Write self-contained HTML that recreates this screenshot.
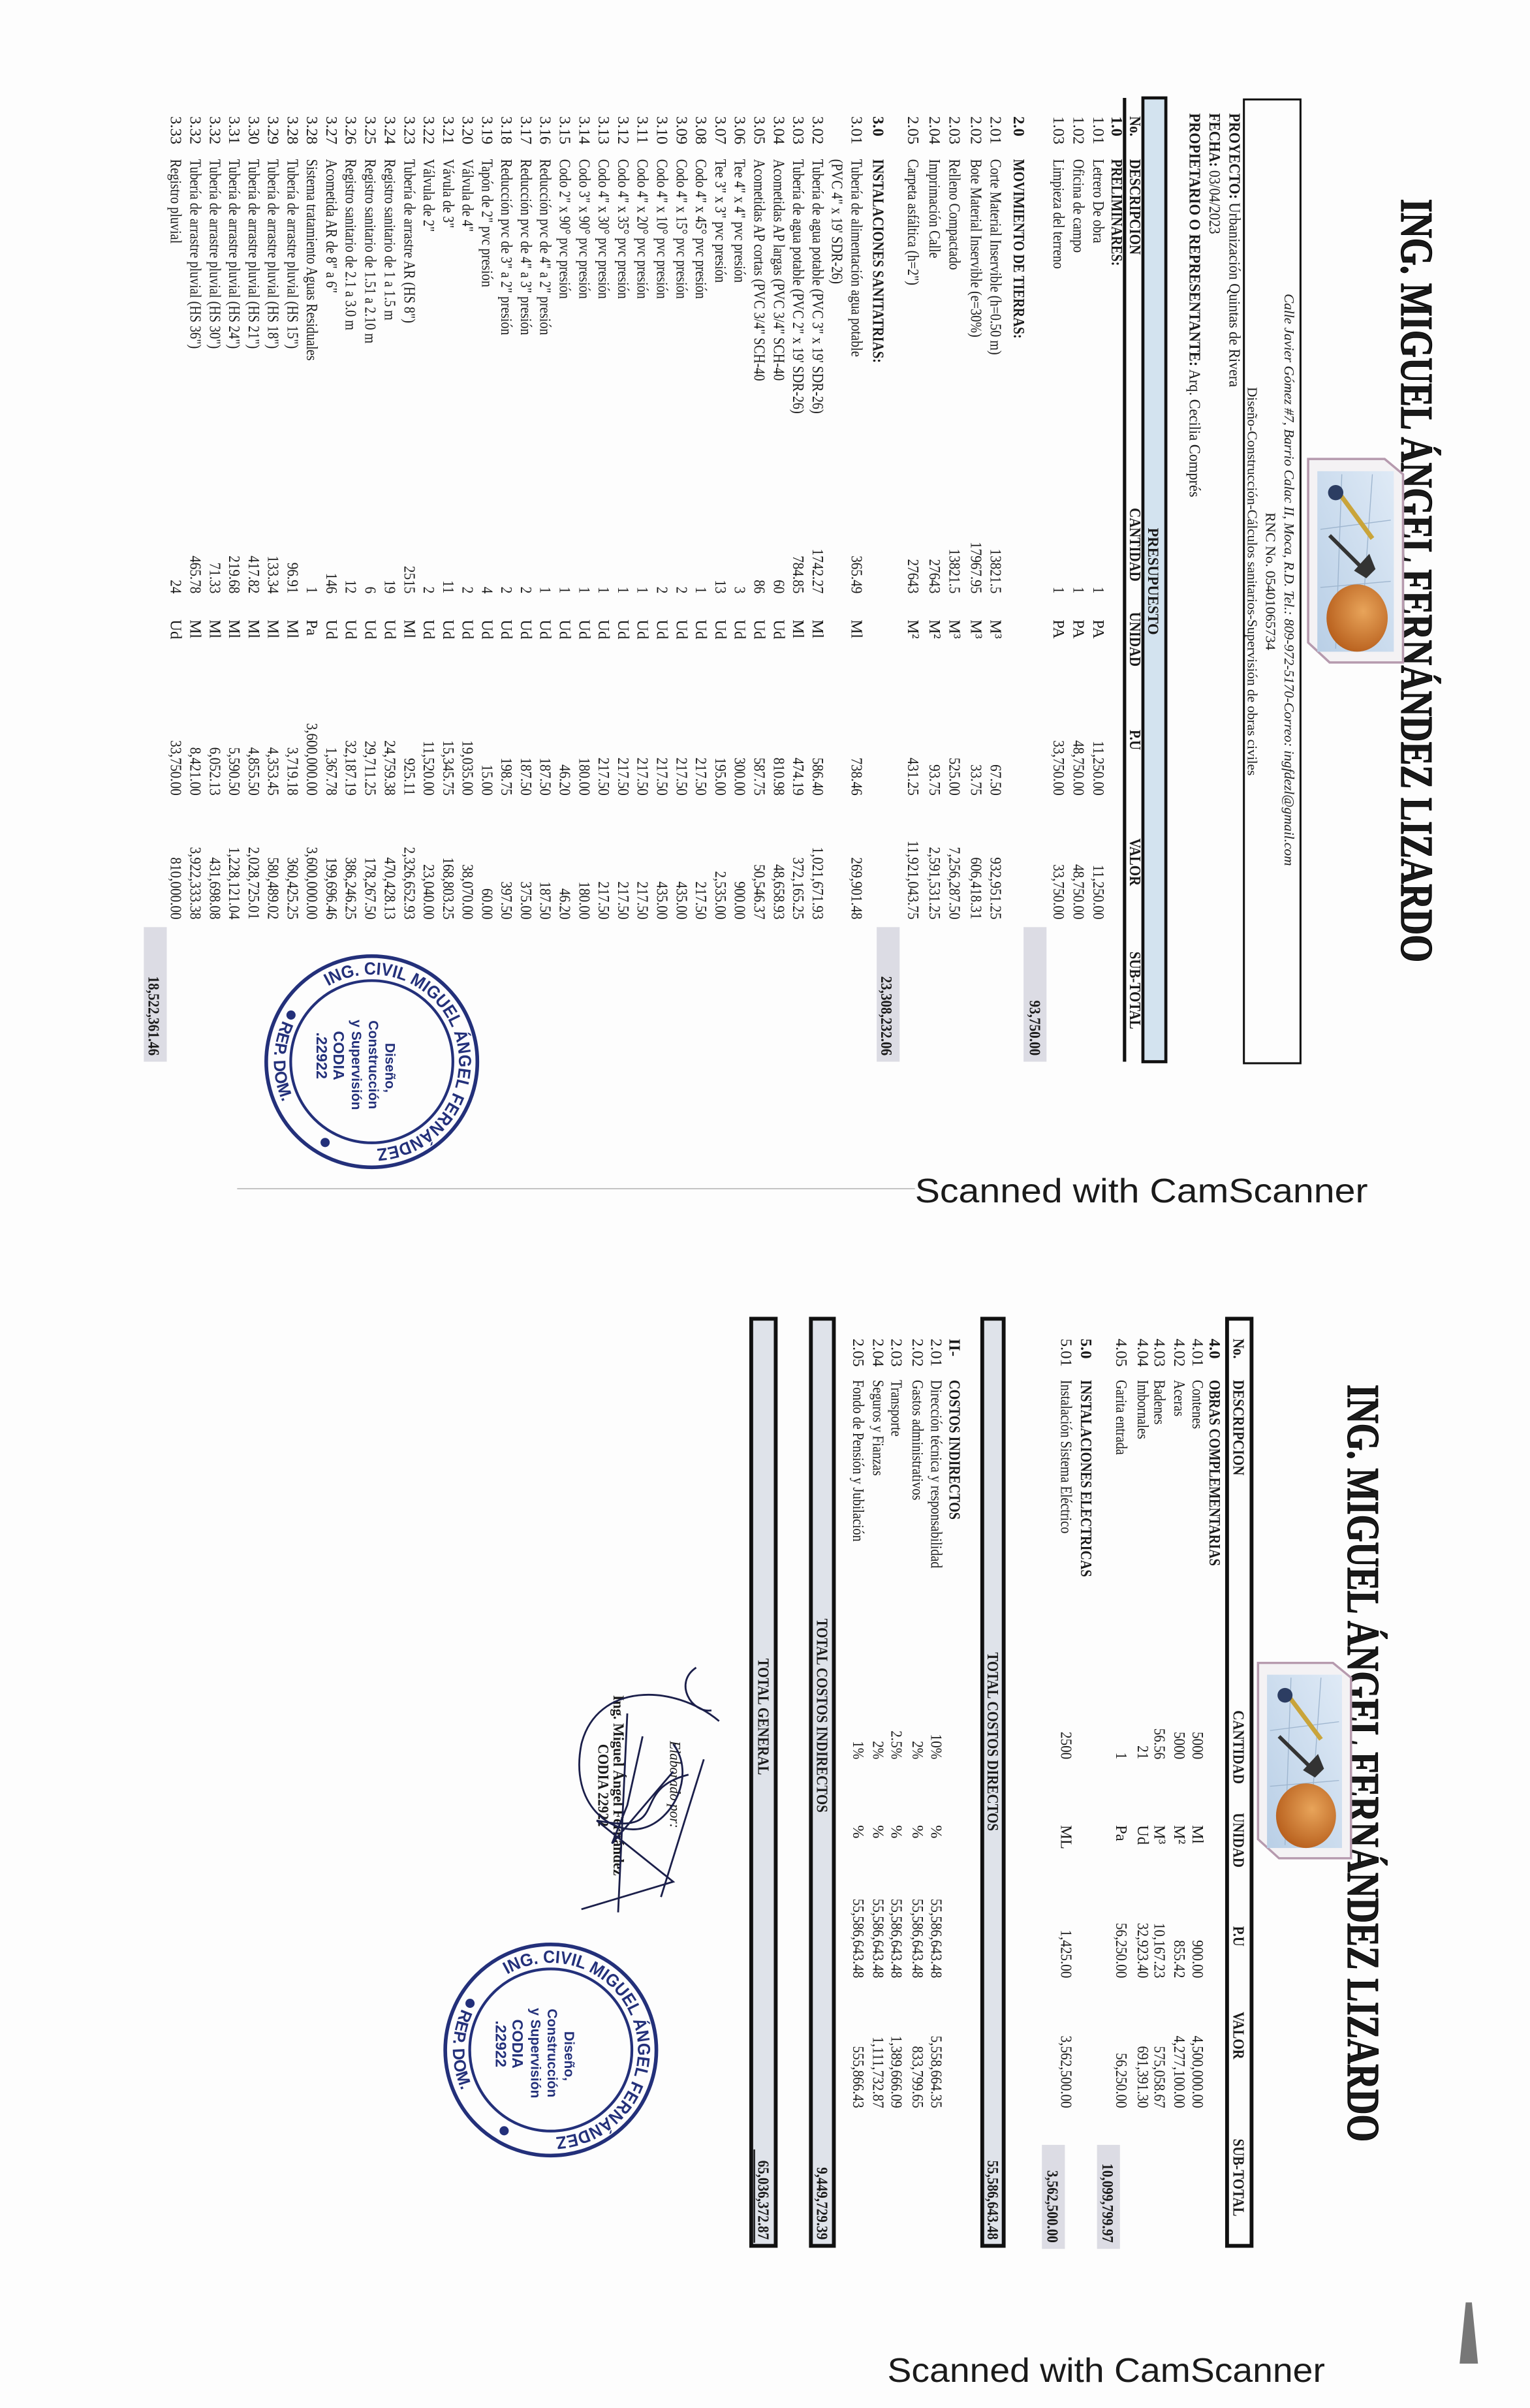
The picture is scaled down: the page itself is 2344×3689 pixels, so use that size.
<!DOCTYPE html>
<html><head><meta charset="utf-8">
<style>
html,body{margin:0;padding:0;background:#fff;}
svg{display:block;}
text{font-family:"Liberation Serif",serif;fill:#1a1a1a;}
.t{font-size:10.5px;}
.d,.n,.q,.u{font-size:10.5px;}
.d{transform-box:fill-box;transform-origin:0 50%;transform:scaleX(.82);}
.r{text-anchor:end;transform-box:fill-box;transform-origin:100% 50%;transform:scaleX(.86);font-size:10.5px;}
.b{font-weight:bold;}
.h{font-weight:bold;font-size:10.5px;transform-box:fill-box;transform-origin:0 50%;transform:scaleX(.85);}
.st text{fill:#23307a;font-family:"Liberation Sans",sans-serif;font-weight:bold;}
</style></head>
<body>
<svg width="2344" height="3689" viewBox="0 0 1000 1574" preserveAspectRatio="none" xmlns="http://www.w3.org/2000/svg">
<rect x="0" y="0" width="1000" height="1574" fill="#fdfdfd"/>
<defs>
<path id="arcT" d="M -49.4,28.5 A 57 57 0 1 1 57,0"/>
<path id="arcB" d="M -27,58 A 64 64 0 0 0 27,58"/>
<linearGradient id="lg" x1="0" y1="0" x2="1" y2="1"><stop offset="0" stop-color="#dfeaf6"/><stop offset="1" stop-color="#b9cfe6"/></linearGradient>
<radialGradient id="hat" cx=".4" cy=".4" r=".7"><stop offset="0" stop-color="#e8a45a"/><stop offset="1" stop-color="#b45a18"/></radialGradient>
<g id="logo">
<polygon points="10,0 133,0 133,48 120,62 0,62 0,12" fill="#f4f2f4" stroke="#b69aae" stroke-width="1.5"/>
<rect x="8" y="6" width="118" height="50" fill="url(#lg)"/>
<line x1="10" y1="20" x2="124" y2="28" stroke="#9fb6cf" stroke-width=".6"/>
<line x1="10" y1="40" x2="124" y2="44" stroke="#9fb6cf" stroke-width=".6"/>
<line x1="40" y1="8" x2="46" y2="54" stroke="#9fb6cf" stroke-width=".6"/>
<line x1="80" y1="8" x2="84" y2="54" stroke="#9fb6cf" stroke-width=".6"/>
<line x1="22" y1="42" x2="52" y2="20" stroke="#c9a43a" stroke-width="3"/>
<circle cx="22" cy="44" r="5" fill="#2c3d62"/>
<line x1="50" y1="48" x2="72" y2="26" stroke="#333" stroke-width="2.5"/>
<path d="M62,22 l10,-4 l6,6 l-5,8 z" fill="#333"/>
<ellipse cx="104" cy="30" rx="22" ry="20" fill="url(#hat)"/>
</g>
<g id="stamp" class="st">
<circle r="69" fill="none" stroke="#23307a" stroke-width="2.4"/>
<circle r="53" fill="none" stroke="#23307a" stroke-width="1.8"/>
<text font-size="11.5"><textPath href="#arcT" textLength="205" lengthAdjust="spacingAndGlyphs">ING. CIVIL MIGUEL ÁNGEL FERNÁNDEZ</textPath></text>
<text font-size="11"><textPath href="#arcB" textLength="55" lengthAdjust="spacingAndGlyphs">REP. DOM.</textPath></text>
<circle cx="-30.5" cy="52.8" r="3" fill="#23307a"/>
<circle cx="52.8" cy="30.5" r="3" fill="#23307a"/>
<text font-size="9" text-anchor="middle" x="4" y="-9">Diseño,</text>
<text font-size="9" text-anchor="middle" x="2" y="2">Construcción</text>
<text font-size="9" text-anchor="middle" x="2" y="13">y Supervisión</text>
<text font-size="10" text-anchor="middle" x="-4" y="25">CODIA</text>
<text font-size="10" text-anchor="middle" x="-4" y="36">.22922</text>
</g>
</defs>

<g transform="translate(1000,0) rotate(90)">

<!-- ================= PAGE 1 ================= -->
<text x="130" y="84" font-size="30" font-weight="bold" textLength="499" lengthAdjust="spacingAndGlyphs" fill="#222" stroke="#000" stroke-width=".5">ING. MIGUEL ÁNGEL FERNÁNDEZ LIZARDO</text>
<use href="#logo" transform="translate(300,83)"/>
<rect x="65" y="150" width="630" height="37" fill="none" stroke="#111" stroke-width="1.3"/>
<text x="192" y="160.5" font-size="9" font-style="italic" textLength="374" lengthAdjust="spacingAndGlyphs">Calle Javier Gómez #7, Barrio Calac II, Moca, R.D. Tel.: 809-972-5170-Correo: ingfdezl@gmail.com</text>
<text x="335" y="172.5" font-size="9" textLength="90" lengthAdjust="spacingAndGlyphs">RNC No. 05401065734</text>
<text x="253" y="184.5" font-size="9" textLength="254" lengthAdjust="spacingAndGlyphs">Diseño-Construcción-Cálculos sanitarios-Supervisión de obras civiles</text>
<text x="74" y="196.5" font-size="10.5" textLength="179" lengthAdjust="spacingAndGlyphs"><tspan font-weight="bold">PROYECTO:</tspan> Urbanización Quintas de Rivera</text>
<text x="74" y="209.5" font-size="10.5" textLength="79" lengthAdjust="spacingAndGlyphs"><tspan font-weight="bold">FECHA:</tspan> 03/04/2023</text>
<text x="74" y="222.5" font-size="10.5" textLength="251" lengthAdjust="spacingAndGlyphs"><tspan font-weight="bold">PROPIETARIO O REPRESENTANTE:</tspan> Arq. Cecilia Comprés</text>
<rect x="64" y="238" width="630" height="15" fill="#d3e3ef" stroke="#111" stroke-width="2"/>
<text x="345" y="249.5" font-size="10" font-weight="bold" textLength="70" lengthAdjust="spacingAndGlyphs">PRESUPUESTO</text>
<line x1="64" y1="265" x2="694" y2="265" stroke="#111" stroke-width="2.2"/>

<g transform="translate(0,261.5)">
<text class="h" x="76">No.</text><text class="h" x="104">DESCRIPCION</text><text class="h" x="332">CANTIDAD</text><text class="h" x="400">UNIDAD</text><text class="h" x="477">P.U</text><text class="h" x="548">VALOR</text><text class="h" x="622">SUB-TOTAL</text>
</g>

<g transform="translate(0,273.5)"><text class="t b" x="76">1.0</text><text class="d b" x="104">PRELIMINARES:</text></g>
<g transform="translate(0,285.5)"><text class="t" x="76">1.01</text><text class="d" x="104">Letrero De obra</text><text class="r" x="388">1</text><text class="u" x="405">PA</text><text class="r" x="520">11,250.00</text><text class="r" x="601">11,250.00</text></g>
<g transform="translate(0,298.5)"><text class="t" x="76">1.02</text><text class="d" x="104">Oficina de campo</text><text class="r" x="388">1</text><text class="u" x="405">PA</text><text class="r" x="520">48,750.00</text><text class="r" x="601">48,750.00</text></g>
<g transform="translate(0,311.5)"><text class="t" x="76">1.03</text><text class="d" x="104">Limpieza del terreno</text><text class="r" x="388">1</text><text class="u" x="405">PA</text><text class="r" x="520">33,750.00</text><text class="r" x="601">33,750.00</text></g>
<rect x="606" y="316" width="88" height="15" fill="#dcdce4"/>
<text class="r b" x="690" y="327">93,750.00</text>

<g transform="translate(0,337.5)"><text class="t b" x="76">2.0</text><text class="d b" x="104">MOVIMIENTO DE TIERRAS:</text></g>
<g transform="translate(0,352.5)"><text class="t" x="76">2.01</text><text class="d" x="104">Corte Material Inservible (h=0.50 m)</text><text class="r" x="388">13821.5</text><text class="u" x="405">M³</text><text class="r" x="520">67.50</text><text class="r" x="601">932,951.25</text></g>
<g transform="translate(0,365.5)"><text class="t" x="76">2.02</text><text class="d" x="104">Bote Material Inservible (e=30%)</text><text class="r" x="388">17967.95</text><text class="u" x="405">M³</text><text class="r" x="520">33.75</text><text class="r" x="601">606,418.31</text></g>
<g transform="translate(0,379.5)"><text class="t" x="76">2.03</text><text class="d" x="104">Relleno Compactado</text><text class="r" x="388">13821.5</text><text class="u" x="405">M³</text><text class="r" x="520">525.00</text><text class="r" x="601">7,256,287.50</text></g>
<g transform="translate(0,392.5)"><text class="t" x="76">2.04</text><text class="d" x="104">Imprimación Calle</text><text class="r" x="388">27643</text><text class="u" x="405">M²</text><text class="r" x="520">93.75</text><text class="r" x="601">2,591,531.25</text></g>
<g transform="translate(0,406.5)"><text class="t" x="76">2.05</text><text class="d" x="104">Carpeta asfáltica (h=2")</text><text class="r" x="388">27643</text><text class="u" x="405">M²</text><text class="r" x="520">431.25</text><text class="r" x="601">11,921,043.75</text></g>
<rect x="606" y="412" width="88" height="15" fill="#dcdce4"/>
<text class="r b" x="690" y="424">23,308,232.06</text>

<g transform="translate(0,429.5)"><text class="t b" x="76">3.0</text><text class="d b" x="104">INSTALACIONES SANITATRIAS:</text></g>
<g transform="translate(0,443.5)"><text class="t" x="76">3.01</text><text class="d" x="104">Tubería de alimentación agua potable</text><text class="r" x="388">365.49</text><text class="u" x="405">Ml</text><text class="r" x="520">738.46</text><text class="r" x="601">269,901.48</text></g>
<g transform="translate(0,456.2)"><text class="d" x="104">(PVC 4" x 19' SDR-26)</text></g>
<g transform="translate(0,468.9)"><text class="t" x="76">3.02</text><text class="d" x="104">Tubería de agua potable (PVC 3" x 19' SDR-26)</text><text class="r" x="388">1742.27</text><text class="u" x="405">Ml</text><text class="r" x="520">586.40</text><text class="r" x="601">1,021,671.93</text></g>
<g transform="translate(0,481.6)"><text class="t" x="76">3.03</text><text class="d" x="104">Tubería de agua potable (PVC 2" x 19' SDR-26)</text><text class="r" x="388">784.85</text><text class="u" x="405">Ml</text><text class="r" x="520">474.19</text><text class="r" x="601">372,165.25</text></g>
<g transform="translate(0,494.3)"><text class="t" x="76">3.04</text><text class="d" x="104">Acometidas AP largas (PVC 3/4" SCH-40</text><text class="r" x="388">60</text><text class="u" x="405">Ud</text><text class="r" x="520">810.98</text><text class="r" x="601">48,658.93</text></g>
<g transform="translate(0,507.1)"><text class="t" x="76">3.05</text><text class="d" x="104">Acometidas AP cortas (PVC 3/4" SCH-40</text><text class="r" x="388">86</text><text class="u" x="405">Ud</text><text class="r" x="520">587.75</text><text class="r" x="601">50,546.37</text></g>
<g transform="translate(0,519.8)"><text class="t" x="76">3.06</text><text class="d" x="104">Tee 4" x 4" pvc presión</text><text class="r" x="388">3</text><text class="u" x="405">Ud</text><text class="r" x="520">300.00</text><text class="r" x="601">900.00</text></g>
<g transform="translate(0,532.5)"><text class="t" x="76">3.07</text><text class="d" x="104">Tee 3" x 3" pvc presión</text><text class="r" x="388">13</text><text class="u" x="405">Ud</text><text class="r" x="520">195.00</text><text class="r" x="601">2,535.00</text></g>
<g transform="translate(0,545.2)"><text class="t" x="76">3.08</text><text class="d" x="104">Codo 4" x 45° pvc presión</text><text class="r" x="388">1</text><text class="u" x="405">Ud</text><text class="r" x="520">217.50</text><text class="r" x="601">217.50</text></g>
<g transform="translate(0,557.9)"><text class="t" x="76">3.09</text><text class="d" x="104">Codo 4" x 15° pvc presión</text><text class="r" x="388">2</text><text class="u" x="405">Ud</text><text class="r" x="520">217.50</text><text class="r" x="601">435.00</text></g>
<g transform="translate(0,570.6)"><text class="t" x="76">3.10</text><text class="d" x="104">Codo 4" x 10° pvc presión</text><text class="r" x="388">2</text><text class="u" x="405">Ud</text><text class="r" x="520">217.50</text><text class="r" x="601">435.00</text></g>
<g transform="translate(0,583.3)"><text class="t" x="76">3.11</text><text class="d" x="104">Codo 4" x 20° pvc presión</text><text class="r" x="388">1</text><text class="u" x="405">Ud</text><text class="r" x="520">217.50</text><text class="r" x="601">217.50</text></g>
<g transform="translate(0,596.0)"><text class="t" x="76">3.12</text><text class="d" x="104">Codo 4" x 35° pvc presión</text><text class="r" x="388">1</text><text class="u" x="405">Ud</text><text class="r" x="520">217.50</text><text class="r" x="601">217.50</text></g>
<g transform="translate(0,608.7)"><text class="t" x="76">3.13</text><text class="d" x="104">Codo 4" x 30° pvc presión</text><text class="r" x="388">1</text><text class="u" x="405">Ud</text><text class="r" x="520">217.50</text><text class="r" x="601">217.50</text></g>
<g transform="translate(0,621.4)"><text class="t" x="76">3.14</text><text class="d" x="104">Codo 3" x 90° pvc presión</text><text class="r" x="388">1</text><text class="u" x="405">Ud</text><text class="r" x="520">180.00</text><text class="r" x="601">180.00</text></g>
<g transform="translate(0,634.2)"><text class="t" x="76">3.15</text><text class="d" x="104">Codo 2" x 90° pvc presión</text><text class="r" x="388">1</text><text class="u" x="405">Ud</text><text class="r" x="520">46.20</text><text class="r" x="601">46.20</text></g>
<g transform="translate(0,646.9)"><text class="t" x="76">3.16</text><text class="d" x="104">Reducción pvc de 4" a 2" presión</text><text class="r" x="388">1</text><text class="u" x="405">Ud</text><text class="r" x="520">187.50</text><text class="r" x="601">187.50</text></g>
<g transform="translate(0,659.6)"><text class="t" x="76">3.17</text><text class="d" x="104">Reducción pvc de 4" a 3" presión</text><text class="r" x="388">2</text><text class="u" x="405">Ud</text><text class="r" x="520">187.50</text><text class="r" x="601">375.00</text></g>
<g transform="translate(0,672.3)"><text class="t" x="76">3.18</text><text class="d" x="104">Reducción pvc de 3" a 2" presión</text><text class="r" x="388">2</text><text class="u" x="405">Ud</text><text class="r" x="520">198.75</text><text class="r" x="601">397.50</text></g>
<g transform="translate(0,685.0)"><text class="t" x="76">3.19</text><text class="d" x="104">Tapón de 2" pvc presión</text><text class="r" x="388">4</text><text class="u" x="405">Ud</text><text class="r" x="520">15.00</text><text class="r" x="601">60.00</text></g>
<g transform="translate(0,697.7)"><text class="t" x="76">3.20</text><text class="d" x="104">Válvula de 4"</text><text class="r" x="388">2</text><text class="u" x="405">Ud</text><text class="r" x="520">19,035.00</text><text class="r" x="601">38,070.00</text></g>
<g transform="translate(0,710.4)"><text class="t" x="76">3.21</text><text class="d" x="104">Vávula de 3"</text><text class="r" x="388">11</text><text class="u" x="405">Ud</text><text class="r" x="520">15,345.75</text><text class="r" x="601">168,803.25</text></g>
<g transform="translate(0,723.1)"><text class="t" x="76">3.22</text><text class="d" x="104">Válvula de 2"</text><text class="r" x="388">2</text><text class="u" x="405">Ud</text><text class="r" x="520">11,520.00</text><text class="r" x="601">23,040.00</text></g>
<g transform="translate(0,735.8)"><text class="t" x="76">3.23</text><text class="d" x="104">Tubería de arrastre AR (HS 8")</text><text class="r" x="388">2515</text><text class="u" x="405">Ml</text><text class="r" x="520">925.11</text><text class="r" x="601">2,326,652.93</text></g>
<g transform="translate(0,748.5)"><text class="t" x="76">3.24</text><text class="d" x="104">Registro sanitario de 1 a 1.5 m</text><text class="r" x="388">19</text><text class="u" x="405">Ud</text><text class="r" x="520">24,759.38</text><text class="r" x="601">470,428.13</text></g>
<g transform="translate(0,761.3)"><text class="t" x="76">3.25</text><text class="d" x="104">Registro sanitario de 1.51 a 2.10 m</text><text class="r" x="388">6</text><text class="u" x="405">Ud</text><text class="r" x="520">29,711.25</text><text class="r" x="601">178,267.50</text></g>
<g transform="translate(0,774.0)"><text class="t" x="76">3.26</text><text class="d" x="104">Registro sanitario de 2.1 a 3.0 m</text><text class="r" x="388">12</text><text class="u" x="405">Ud</text><text class="r" x="520">32,187.19</text><text class="r" x="601">386,246.25</text></g>
<g transform="translate(0,786.7)"><text class="t" x="76">3.27</text><text class="d" x="104">Acometida AR de 8" a 6"</text><text class="r" x="388">146</text><text class="u" x="405">Ud</text><text class="r" x="520">1,367.78</text><text class="r" x="601">199,696.46</text></g>
<g transform="translate(0,799.4)"><text class="t" x="76">3.28</text><text class="d" x="104">Sistema tratamiento Aguas Residuales</text><text class="r" x="388">1</text><text class="u" x="405">Pa</text><text class="r" x="520">3,600,000.00</text><text class="r" x="601">3,600,000.00</text></g>
<g transform="translate(0,812.1)"><text class="t" x="76">3.28</text><text class="d" x="104">Tubería de arrastre pluvial (HS 15")</text><text class="r" x="388">96.91</text><text class="u" x="405">Ml</text><text class="r" x="520">3,719.18</text><text class="r" x="601">360,425.25</text></g>
<g transform="translate(0,824.8)"><text class="t" x="76">3.29</text><text class="d" x="104">Tubería de arrastre pluvial (HS 18")</text><text class="r" x="388">133.34</text><text class="u" x="405">Ml</text><text class="r" x="520">4,353.45</text><text class="r" x="601">580,489.02</text></g>
<g transform="translate(0,837.5)"><text class="t" x="76">3.30</text><text class="d" x="104">Tubería de arrastre pluvial (HS 21")</text><text class="r" x="388">417.82</text><text class="u" x="405">Ml</text><text class="r" x="520">4,855.50</text><text class="r" x="601">2,028,725.01</text></g>
<g transform="translate(0,850.2)"><text class="t" x="76">3.31</text><text class="d" x="104">Tubería de arrastre pluvial (HS 24")</text><text class="r" x="388">219.68</text><text class="u" x="405">Ml</text><text class="r" x="520">5,590.50</text><text class="r" x="601">1,228,121.04</text></g>
<g transform="translate(0,862.9)"><text class="t" x="76">3.32</text><text class="d" x="104">Tubería de arrastre pluvial (HS 30")</text><text class="r" x="388">71.33</text><text class="u" x="405">Ml</text><text class="r" x="520">6,052.13</text><text class="r" x="601">431,698.08</text></g>
<g transform="translate(0,875.6)"><text class="t" x="76">3.32</text><text class="d" x="104">Tubería de arrastre pluvial (HS 36")</text><text class="r" x="388">465.78</text><text class="u" x="405">Ml</text><text class="r" x="520">8,421.00</text><text class="r" x="601">3,922,333.38</text></g>
<g transform="translate(0,888.4)"><text class="t" x="76">3.33</text><text class="d" x="104">Registro pluvial</text><text class="r" x="388">24</text><text class="u" x="405">Ud</text><text class="r" x="520">33,750.00</text><text class="r" x="601">810,000.00</text></g>
<rect x="606" y="891" width="88" height="15" fill="#dcdce4"/>
<text class="r b" x="690" y="903">18,522,361.46</text>

<use href="#stamp" transform="translate(694,757)"/>

<!-- ================= PAGE 2 ================= -->
<text x="905" y="119" font-size="30" font-weight="bold" textLength="495" lengthAdjust="spacingAndGlyphs" fill="#222" stroke="#000" stroke-width=".5">ING. MIGUEL ÁNGEL FERNÁNDEZ LIZARDO</text>
<use href="#logo" transform="translate(1087,117) scale(.96,.98)"/>
<rect x="862" y="182" width="606" height="16" fill="none" stroke="#111" stroke-width="2.5"/>
<g transform="translate(0,194)">
<text class="h" x="875">No.</text><text class="h" x="902">DESCRIPCION</text><text class="h" x="1118">CANTIDAD</text><text class="h" x="1185">UNIDAD</text><text class="h" x="1259">P.U</text><text class="h" x="1315">VALOR</text><text class="h" x="1398">SUB-TOTAL</text>
</g>
<g transform="translate(0,209.5)"><text class="t b" x="875">4.0</text><text class="d b" x="902">OBRAS COMPLEMENTARIAS</text></g>
<g transform="translate(0,220.5)"><text class="t" x="875">4.01</text><text class="d" x="902">Contenes</text><text class="r" x="1150">5000</text><text class="u" x="1193">Ml</text><text class="r" x="1293">900.00</text><text class="r" x="1378">4,500,000.00</text></g>
<g transform="translate(0,232.5)"><text class="t" x="875">4.02</text><text class="d" x="902">Aceras</text><text class="r" x="1150">5000</text><text class="u" x="1193">M²</text><text class="r" x="1293">855.42</text><text class="r" x="1378">4,277,100.00</text></g>
<g transform="translate(0,245.5)"><text class="t" x="875">4.03</text><text class="d" x="902">Badenes</text><text class="r" x="1150">56.56</text><text class="u" x="1193">M³</text><text class="r" x="1293">10,167.23</text><text class="r" x="1378">575,058.67</text></g>
<g transform="translate(0,256.5)"><text class="t" x="875">4.04</text><text class="d" x="902">Imbornales</text><text class="r" x="1150">21</text><text class="u" x="1193">Ud</text><text class="r" x="1293">32,923.40</text><text class="r" x="1378">691,391.30</text></g>
<g transform="translate(0,270.5)"><text class="t" x="875">4.05</text><text class="d" x="902">Garita entrada</text><text class="r" x="1150">1</text><text class="u" x="1193">Pa</text><text class="r" x="1293">56,250.00</text><text class="r" x="1378">56,250.00</text></g>
<rect x="1402" y="268" width="68" height="15" fill="#dcdce4"/>
<text class="r b" x="1466" y="279.5">10,099,799.97</text>
<g transform="translate(0,293.5)"><text class="t b" x="875">5.0</text><text class="d b" x="902">INSTALACIONES ELECTRICAS</text></g>
<g transform="translate(0,306.5)"><text class="t" x="875">5.01</text><text class="d" x="902">Instalación Sistema Eléctrico</text><text class="r" x="1150">2500</text><text class="u" x="1193">ML</text><text class="r" x="1293">1,425.00</text><text class="r" x="1378">3,562,500.00</text></g>
<rect x="1402" y="304" width="68" height="15" fill="#dcdce4"/>
<text class="r b" x="1466" y="315.5">3,562,500.00</text>

<rect x="862" y="344" width="606" height="14" fill="#dfe3ea" stroke="#111" stroke-width="2.5"/>
<text class="h" x="1080" y="354.5">TOTAL COSTOS DIRECTOS</text>
<text class="r b" x="1464" y="354.5">55,586,643.48</text>

<g transform="translate(0,379.5)"><text class="t b" x="875">II-</text><text class="d b" x="902">COSTOS INDIRECTOS</text></g>
<g transform="translate(0,391.5)"><text class="t" x="875">2.01</text><text class="d" x="902">Dirección técnica y responsabilidad</text><text class="r" x="1150">10%</text><text class="u" x="1193">%</text><text class="r" x="1293">55,586,643.48</text><text class="r" x="1378">5,558,664.35</text></g>
<g transform="translate(0,403.5)"><text class="t" x="875">2.02</text><text class="d" x="902">Gastos administrativos</text><text class="r" x="1150">2%</text><text class="u" x="1193">%</text><text class="r" x="1293">55,586,643.48</text><text class="r" x="1378">833,799.65</text></g>
<g transform="translate(0,417.5)"><text class="t" x="875">2.03</text><text class="d" x="902">Transporte</text><text class="r" x="1150">2.5%</text><text class="u" x="1193">%</text><text class="r" x="1293">55,586,643.48</text><text class="r" x="1378">1,389,666.09</text></g>
<g transform="translate(0,429.5)"><text class="t" x="875">2.04</text><text class="d" x="902">Seguros y Fianzas</text><text class="r" x="1150">2%</text><text class="u" x="1193">%</text><text class="r" x="1293">55,586,643.48</text><text class="r" x="1378">1,111,732.87</text></g>
<g transform="translate(0,442.5)"><text class="t" x="875">2.05</text><text class="d" x="902">Fondo de Pensión y Jubilación</text><text class="r" x="1150">1%</text><text class="u" x="1193">%</text><text class="r" x="1293">55,586,643.48</text><text class="r" x="1378">555,866.43</text></g>

<rect x="862" y="455" width="606" height="15" fill="#dfe3ea" stroke="#111" stroke-width="2.5"/>
<text class="h" x="1058" y="466">TOTAL COSTOS INDIRECTOS</text>
<text class="r b" x="1464" y="466">9,449,729.39</text>

<rect x="862" y="493" width="606" height="16" fill="#dfe3ea" stroke="#111" stroke-width="2.5"/>
<text class="h" x="1084" y="504.5">TOTAL GENERAL</text>
<text class="r b" x="1464" y="504.5">65,036,372.87</text>
<line x1="1405" y1="507" x2="1466" y2="507" stroke="#111" stroke-width="1"/>

<text x="1138" y="562" font-size="10" font-style="italic" textLength="57" lengthAdjust="spacingAndGlyphs">Elaborado por:</text>
<text x="1108" y="599" font-size="10" font-weight="bold" textLength="118" lengthAdjust="spacingAndGlyphs">Ing. Miguel Ángel Fernández</text>
<text x="1140" y="609" font-size="10" font-weight="bold" textLength="54" lengthAdjust="spacingAndGlyphs">CODIA 22922</text>
<g fill="none" stroke="#1b1f4a" stroke-width="1.2">
<path d="M1125,530 C1100,560 1100,610 1140,620 C1180,628 1200,600 1195,580 C1190,560 1160,545 1140,560"/>
<path d="M1150,540 L1240,568"/>
<path d="M1120,590 L1250,596"/>
<path d="M1160,550 C1170,590 1200,560 1190,610 L1230,560 L1248,620"/>
<path d="M1090,545 C1100,560 1120,548 1118,535"/>
<path d="M1135,580 L1180,590 L1205,600 L1158,560"/>
</g>

<use href="#stamp" transform="translate(1340,640)"/>
</g>

<line x1="155" y1="777" x2="598" y2="777" stroke="#aaa" stroke-width=".6"/>
<text x="598" y="786" font-size="22" fill="#333" textLength="296" lengthAdjust="spacingAndGlyphs" style="font-family:'Liberation Sans',sans-serif">Scanned with CamScanner</text>
<text x="580" y="1557" font-size="22" fill="#333" textLength="286" lengthAdjust="spacingAndGlyphs" style="font-family:'Liberation Sans',sans-serif">Scanned with CamScanner</text>
<polygon points="958,1505 962,1505 966,1545 954,1545" fill="#777"/>
</svg>
</body></html>
